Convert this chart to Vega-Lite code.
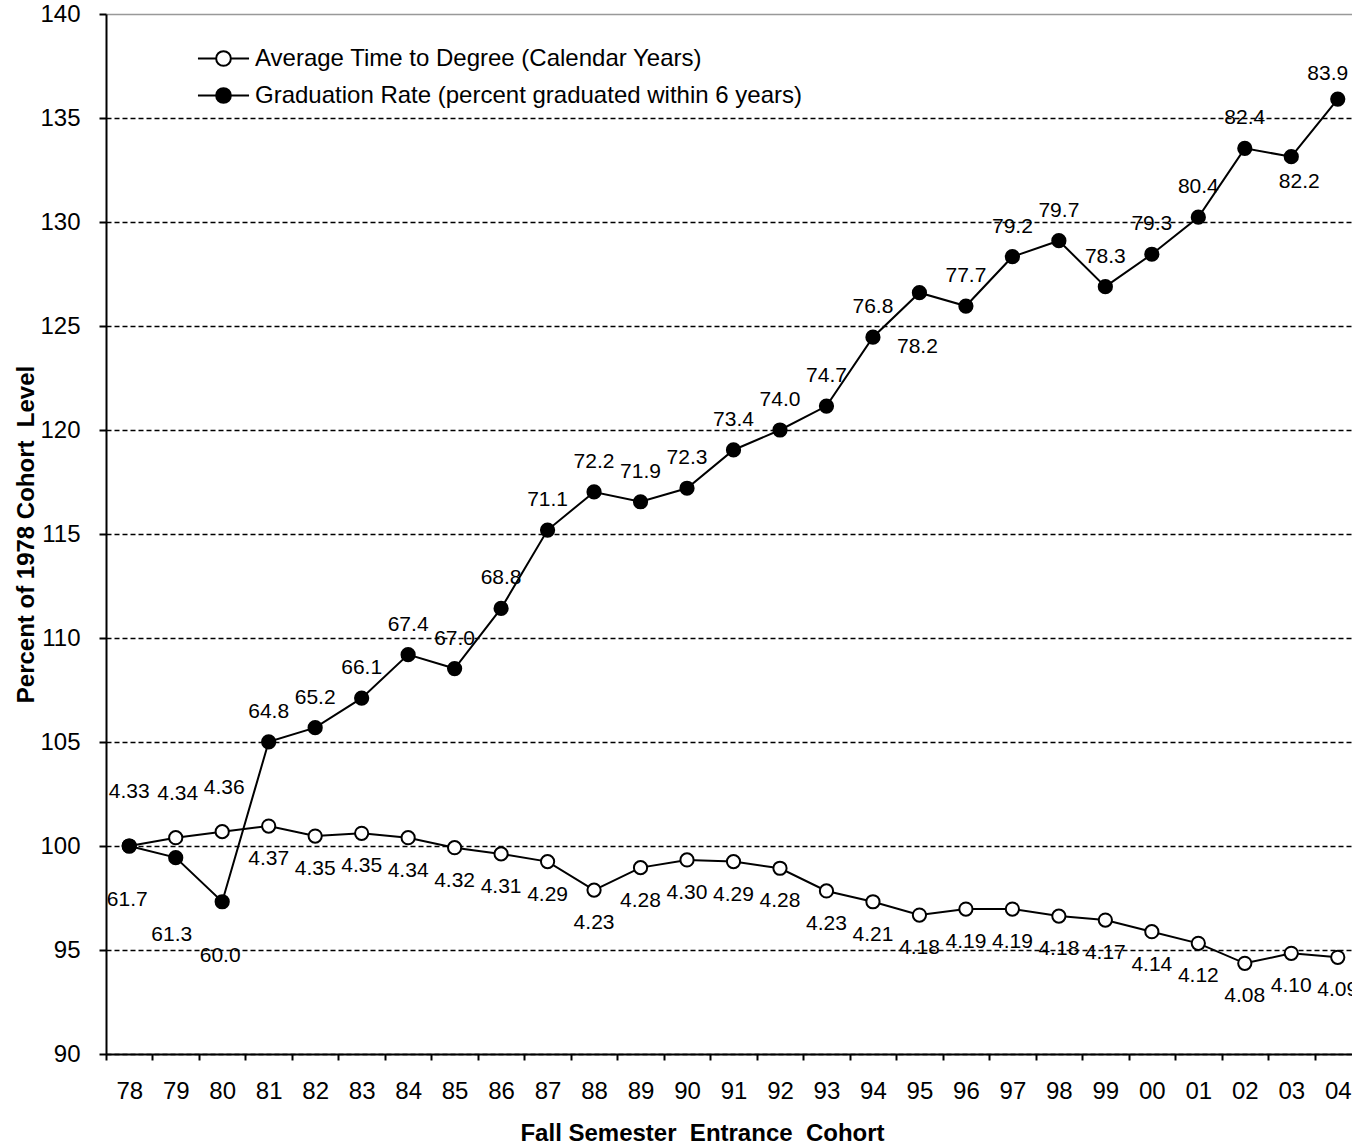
{
  "$schema": "https://vega.github.io/schema/vega-lite/v6.json",
  "width": 1255,
  "height": 1040,
  "autosize": {"type": "none"},
  "padding": {"left": 106, "top": 14, "right": 0, "bottom": 90},
  "background": "white",
  "config": {"font": "Liberation Sans", "view": {"stroke": null}},
  "data": {"values": [
    {"year": "78", "series": "Average Time to Degree (Calendar Years)", "value": 100.00, "label": "4.33"},
    {"year": "79", "series": "Average Time to Degree (Calendar Years)", "value": 100.40, "label": "4.34"},
    {"year": "80", "series": "Average Time to Degree (Calendar Years)", "value": 100.69, "label": "4.36"},
    {"year": "81", "series": "Average Time to Degree (Calendar Years)", "value": 100.96, "label": "4.37"},
    {"year": "82", "series": "Average Time to Degree (Calendar Years)", "value": 100.48, "label": "4.35"},
    {"year": "83", "series": "Average Time to Degree (Calendar Years)", "value": 100.61, "label": "4.35"},
    {"year": "84", "series": "Average Time to Degree (Calendar Years)", "value": 100.40, "label": "4.34"},
    {"year": "85", "series": "Average Time to Degree (Calendar Years)", "value": 99.92, "label": "4.32"},
    {"year": "86", "series": "Average Time to Degree (Calendar Years)", "value": 99.62, "label": "4.31"},
    {"year": "87", "series": "Average Time to Degree (Calendar Years)", "value": 99.25, "label": "4.29"},
    {"year": "88", "series": "Average Time to Degree (Calendar Years)", "value": 97.88, "label": "4.23"},
    {"year": "89", "series": "Average Time to Degree (Calendar Years)", "value": 98.96, "label": "4.28"},
    {"year": "90", "series": "Average Time to Degree (Calendar Years)", "value": 99.33, "label": "4.30"},
    {"year": "91", "series": "Average Time to Degree (Calendar Years)", "value": 99.25, "label": "4.29"},
    {"year": "92", "series": "Average Time to Degree (Calendar Years)", "value": 98.93, "label": "4.28"},
    {"year": "93", "series": "Average Time to Degree (Calendar Years)", "value": 97.84, "label": "4.23"},
    {"year": "94", "series": "Average Time to Degree (Calendar Years)", "value": 97.32, "label": "4.21"},
    {"year": "95", "series": "Average Time to Degree (Calendar Years)", "value": 96.68, "label": "4.18"},
    {"year": "96", "series": "Average Time to Degree (Calendar Years)", "value": 96.97, "label": "4.19"},
    {"year": "97", "series": "Average Time to Degree (Calendar Years)", "value": 96.97, "label": "4.19"},
    {"year": "98", "series": "Average Time to Degree (Calendar Years)", "value": 96.63, "label": "4.18"},
    {"year": "99", "series": "Average Time to Degree (Calendar Years)", "value": 96.44, "label": "4.17"},
    {"year": "00", "series": "Average Time to Degree (Calendar Years)", "value": 95.88, "label": "4.14"},
    {"year": "01", "series": "Average Time to Degree (Calendar Years)", "value": 95.32, "label": "4.12"},
    {"year": "02", "series": "Average Time to Degree (Calendar Years)", "value": 94.36, "label": "4.08"},
    {"year": "03", "series": "Average Time to Degree (Calendar Years)", "value": 94.84, "label": "4.10"},
    {"year": "04", "series": "Average Time to Degree (Calendar Years)", "value": 94.65, "label": "4.09"},
    {"year": "78", "series": "Graduation Rate (percent graduated within 6 years)", "value": 100.00, "label": "61.7"},
    {"year": "79", "series": "Graduation Rate (percent graduated within 6 years)", "value": 99.44, "label": "61.3"},
    {"year": "80", "series": "Graduation Rate (percent graduated within 6 years)", "value": 97.32, "label": "60.0"},
    {"year": "81", "series": "Graduation Rate (percent graduated within 6 years)", "value": 105.01, "label": "64.8"},
    {"year": "82", "series": "Graduation Rate (percent graduated within 6 years)", "value": 105.69, "label": "65.2"},
    {"year": "83", "series": "Graduation Rate (percent graduated within 6 years)", "value": 107.11, "label": "66.1"},
    {"year": "84", "series": "Graduation Rate (percent graduated within 6 years)", "value": 109.20, "label": "67.4"},
    {"year": "85", "series": "Graduation Rate (percent graduated within 6 years)", "value": 108.53, "label": "67.0"},
    {"year": "86", "series": "Graduation Rate (percent graduated within 6 years)", "value": 111.42, "label": "68.8"},
    {"year": "87", "series": "Graduation Rate (percent graduated within 6 years)", "value": 115.19, "label": "71.1"},
    {"year": "88", "series": "Graduation Rate (percent graduated within 6 years)", "value": 117.02, "label": "72.2"},
    {"year": "89", "series": "Graduation Rate (percent graduated within 6 years)", "value": 116.55, "label": "71.9"},
    {"year": "90", "series": "Graduation Rate (percent graduated within 6 years)", "value": 117.20, "label": "72.3"},
    {"year": "91", "series": "Graduation Rate (percent graduated within 6 years)", "value": 119.04, "label": "73.4"},
    {"year": "92", "series": "Graduation Rate (percent graduated within 6 years)", "value": 120.00, "label": "74.0"},
    {"year": "93", "series": "Graduation Rate (percent graduated within 6 years)", "value": 121.15, "label": "74.7"},
    {"year": "94", "series": "Graduation Rate (percent graduated within 6 years)", "value": 124.46, "label": "76.8"},
    {"year": "95", "series": "Graduation Rate (percent graduated within 6 years)", "value": 126.60, "label": "78.2"},
    {"year": "96", "series": "Graduation Rate (percent graduated within 6 years)", "value": 125.96, "label": "77.7"},
    {"year": "97", "series": "Graduation Rate (percent graduated within 6 years)", "value": 128.33, "label": "79.2"},
    {"year": "98", "series": "Graduation Rate (percent graduated within 6 years)", "value": 129.10, "label": "79.7"},
    {"year": "99", "series": "Graduation Rate (percent graduated within 6 years)", "value": 126.89, "label": "78.3"},
    {"year": "00", "series": "Graduation Rate (percent graduated within 6 years)", "value": 128.45, "label": "79.3"},
    {"year": "01", "series": "Graduation Rate (percent graduated within 6 years)", "value": 130.23, "label": "80.4"},
    {"year": "02", "series": "Graduation Rate (percent graduated within 6 years)", "value": 133.54, "label": "82.4"},
    {"year": "03", "series": "Graduation Rate (percent graduated within 6 years)", "value": 133.14, "label": "82.2"},
    {"year": "04", "series": "Graduation Rate (percent graduated within 6 years)", "value": 135.91, "label": "83.9"}
  ]},
  "encoding": {
    "x": {
      "field": "year", "type": "ordinal",
      "sort": ["78","79","80","81","82","83","84","85","86","87","88","89","90","91","92","93","94","95","96","97","98","99","00","01","02","03","04"],
      "scale": {"paddingInner": 0, "paddingOuter": 0},
      "axis": {
        "title": "Fall Semester\u00a0 Entrance\u00a0 Cohort",
        "titleFontSize": 24, "titleFontWeight": "bold", "titleColor": "black",
        "titleX": 596, "titleY": 86, "titleBaseline": "alphabetic", "titleAlign": "center",
        "labelFontSize": 24, "labelColor": "black", "labelAngle": 0, "labelPadding": 31, "labelBaseline": "middle",
        "tickBand": "extent", "tickSize": 6, "tickWidth": 2, "tickColor": "black",
        "domainColor": "black", "domainWidth": 2, "grid": false
      }
    },
    "y": {
      "field": "value", "type": "quantitative",
      "scale": {"domain": [90, 140], "nice": false, "zero": false},
      "axis": {
        "title": "Percent of 1978 Cohort\u00a0 Level",
        "titleFontSize": 24, "titleFontWeight": "bold", "titleColor": "black",
        "titleX": -73, "titleBaseline": "alphabetic", "titleAngle": -90,
        "values": [90, 95, 100, 105, 110, 115, 120, 125, 130, 135, 140],
        "labelFontSize": 24, "labelColor": "black", "labelPadding": 19,
        "tickSize": 7, "tickWidth": 2, "tickColor": "black",
        "domainColor": "black", "domainWidth": 2,
        "grid": true,
        "gridColor": {"condition": {"test": "datum.value === 140", "value": "#999999"}, "value": "black"},
        "gridDash": {"condition": {"test": "datum.value === 140", "value": []}, "value": [5, 3]},
        "gridWidth": 1.5
      }
    }
  },
  "layer": [
    {"mark": {"type": "line", "color": "black", "strokeWidth": 2}, "encoding": {"detail": {"field": "series", "type": "nominal"}}},
    {
      "mark": {"type": "point", "shape": "circle", "filled": true, "size": 175, "stroke": "black", "strokeWidth": 2, "opacity": 1},
      "encoding": {
        "fill": {
          "field": "series", "type": "nominal",
          "scale": {"domain": ["Average Time to Degree (Calendar Years)", "Graduation Rate (percent graduated within 6 years)"], "range": ["white", "black"]},
          "legend": {
            "title": null, "orient": "none", "legendX": 99, "legendY": 26, "padding": 0,
            "symbolType": "M-1.46,0H-0.42M0.42,0H1.46M-0.42,0A0.42,0.42 0 1,0 0.42,0A0.42,0.42 0 1,0 -0.42,0Z",
            "symbolSize": 1225, "symbolStrokeColor": "black", "symbolStrokeWidth": 2, "symbolOpacity": 1,
            "labelFontSize": 24, "labelColor": "black", "labelLimit": 900, "labelOffset": 13, "rowPadding": 6
          }
        }
      }
    },
    {
      "transform": [{"filter": {"and": [{"field": "series", "equal": "Graduation Rate (percent graduated within 6 years)"}, {"field": "year", "oneOf": ["81","82","83","84","85","86","87","88","89","90","91","92","93","94","96","97","98","99","00","01","02"]}]}}],
      "mark": {"type": "text", "fontSize": 21, "color": "black", "baseline": "middle", "align": "center", "dy": -30},
      "encoding": {"text": {"field": "label"}}
    },
    {
      "transform": [{"filter": {"and": [{"field": "series", "equal": "Graduation Rate (percent graduated within 6 years)"}, {"field": "year", "oneOf": ["04"]}]}}],
      "mark": {"type": "text", "fontSize": 21, "color": "black", "baseline": "middle", "align": "center", "dy": -25, "dx": -10},
      "encoding": {"text": {"field": "label"}}
    },
    {
      "transform": [{"filter": {"and": [{"field": "series", "equal": "Graduation Rate (percent graduated within 6 years)"}, {"field": "year", "oneOf": ["78","80","95"]}]}}],
      "mark": {"type": "text", "fontSize": 21, "color": "black", "baseline": "middle", "align": "center", "dy": 54, "dx": -2},
      "encoding": {"text": {"field": "label"}}
    },
    {
      "transform": [{"filter": {"and": [{"field": "series", "equal": "Graduation Rate (percent graduated within 6 years)"}, {"field": "year", "oneOf": ["79"]}]}}],
      "mark": {"type": "text", "fontSize": 21, "color": "black", "baseline": "middle", "align": "center", "dy": 77, "dx": -4},
      "encoding": {"text": {"field": "label"}}
    },
    {
      "transform": [{"filter": {"and": [{"field": "series", "equal": "Graduation Rate (percent graduated within 6 years)"}, {"field": "year", "oneOf": ["03"]}]}}],
      "mark": {"type": "text", "fontSize": 21, "color": "black", "baseline": "middle", "align": "center", "dy": 25, "dx": 8},
      "encoding": {"text": {"field": "label"}}
    },
    {
      "transform": [{"filter": {"and": [{"field": "series", "equal": "Average Time to Degree (Calendar Years)"}, {"field": "year", "oneOf": ["81","82","83","84","85","86","87","88","89","90","91","92","93","94","95","96","97","98","99","00","01","02","03","04"]}]}}],
      "mark": {"type": "text", "fontSize": 21, "color": "black", "baseline": "middle", "align": "center", "dy": 33},
      "encoding": {"text": {"field": "label"}}
    },
    {
      "transform": [{"filter": {"and": [{"field": "series", "equal": "Average Time to Degree (Calendar Years)"}, {"field": "year", "oneOf": ["78"]}]}}],
      "mark": {"type": "text", "fontSize": 21, "color": "black", "baseline": "middle", "align": "center", "dy": -54},
      "encoding": {"text": {"field": "label"}}
    },
    {
      "transform": [{"filter": {"and": [{"field": "series", "equal": "Average Time to Degree (Calendar Years)"}, {"field": "year", "oneOf": ["79","80"]}]}}],
      "mark": {"type": "text", "fontSize": 21, "color": "black", "baseline": "middle", "align": "center", "dy": -44, "dx": 2},
      "encoding": {"text": {"field": "label"}}
    }
  ]
}
